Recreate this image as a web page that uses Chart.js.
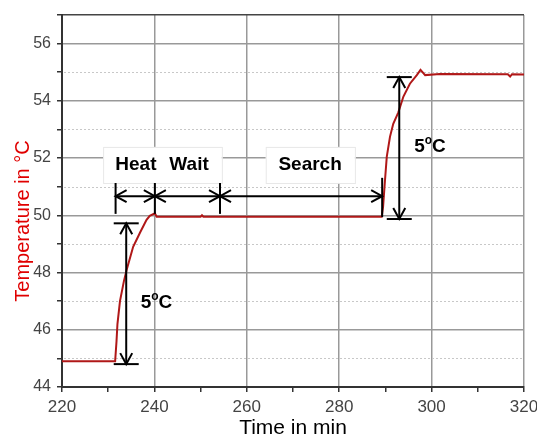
<!DOCTYPE html>
<html>
<head>
<meta charset="utf-8">
<script src="https://cdn.jsdelivr.net/npm/chart.js@4/dist/chart.umd.min.js"></script>
<style>
  html, body { margin: 0; padding: 0; background: #fff; }
  #wrap { width: 537px; height: 437px; }
</style>
</head>
<body>
<div id="wrap"><canvas id="tempChart" width="537" height="437"></canvas></div>
<script>
// measured temperature trace (min, degC)
const times = [220, 231.5, 231.8, 232.0, 232.55, 233.4, 234.0, 235.4, 236.9, 238.3, 239.0, 240.1, 240.5, 250.0, 250.3, 250.6,
  289.2, 289.5, 289.9, 290.3, 291.0, 291.7, 292.8, 293.9, 295.3, 296.8, 297.6, 298.6, 301.8, 316.5, 317.0, 317.4, 320];
const temps = [44.9, 44.9, 45.6, 46.2, 47.0, 47.7, 48.1, 48.9, 49.4, 49.84, 49.98, 50.07, 49.95, 49.95, 50.0, 49.95,
  49.95, 50.3, 51.2, 52.05, 52.75, 53.2, 53.6, 54.15, 54.6, 54.9, 55.08, 54.9, 54.94, 54.93, 54.85, 54.93, 54.92];

// dotted minor grid values
const minorY = [45, 47, 49, 51, 53, 55];

// annotations, in data units
const spanLevel = 50.67;
const spans = [[231.6, 240.1], [240.1, 254.2], [254.2, 289.3]];
const bars = [[231.6, 50.05, 51.13], [240.1, 50.05, 51.13], [254.2, 50.05, 51.13], [289.3, 49.94, 51.31]];
const rises = [[233.9, 44.8, 49.72], [293.0, 49.87, 54.83]];
const phaseLabels = [['Heat', 236.0, 51.76], ['Wait', 247.5, 51.76], ['Search', 273.7, 51.76]];
const labelBoxes = [[228.9, 254.6, 51.13, 52.39], [264.1, 283.4, 51.13, 52.39]];
const riseLabels = [[240.45, 46.94], [299.65, 52.39]];
const yTitle = 'Temperature in °C';

Chart.defaults.font.family = "'Liberation Sans', Arial, sans-serif";

function line(ctx, x1, y1, x2, y2) {
  ctx.beginPath();
  ctx.moveTo(x1, y1);
  ctx.lineTo(x2, y2);
  ctx.stroke();
}

function head(ctx, tx, ty, dx, dy) {
  const L = 11, W = 6;
  const px = -dy, py = dx;
  ctx.beginPath();
  ctx.moveTo(tx - dx * L + px * W, ty - dy * L + py * W);
  ctx.lineTo(tx, ty);
  ctx.lineTo(tx - dx * L - px * W, ty - dy * L - py * W);
  ctx.stroke();
}

const annoPlugin = {
  id: 'anno',
  beforeDatasetsDraw(chart) {
    const { ctx, chartArea, scales: { x, y } } = chart;
    ctx.save();
    ctx.strokeStyle = '#c8c8c8';
    ctx.lineWidth = 1;
    ctx.setLineDash([2, 2]);
    minorY.forEach(v => {
      const py = Math.round(y.getPixelForValue(v)) + 0.5;
      line(ctx, chartArea.left + 2, py, chartArea.right - 2, py);
    });
    ctx.setLineDash([]);
    labelBoxes.forEach(b => {
      const x1 = x.getPixelForValue(b[0]), x2 = x.getPixelForValue(b[1]);
      const y1 = y.getPixelForValue(b[3]), y2 = y.getPixelForValue(b[2]);
      ctx.fillStyle = '#fff';
      ctx.fillRect(x1, y1, x2 - x1, y2 - y1);
      ctx.strokeStyle = '#e8e8e8';
      ctx.strokeRect(x1 + 0.5, y1 + 0.5, x2 - x1, y2 - y1);
    });
    ctx.restore();
  },
  afterDatasetsDraw(chart) {
    const { ctx, scales: { x, y } } = chart;
    ctx.save();
    ctx.strokeStyle = '#000';
    ctx.lineWidth = 2;
    const sy = y.getPixelForValue(spanLevel);
    spans.forEach(s => {
      const a = x.getPixelForValue(s[0]), b = x.getPixelForValue(s[1]);
      line(ctx, a, sy, b, sy);
      head(ctx, a, sy, -1, 0);
      head(ctx, b, sy, 1, 0);
    });
    bars.forEach(b => {
      const px = x.getPixelForValue(b[0]);
      line(ctx, px, y.getPixelForValue(b[1]), px, y.getPixelForValue(b[2]));
    });
    rises.forEach(r => {
      const px = x.getPixelForValue(r[0]);
      const lo = y.getPixelForValue(r[1]), hi = y.getPixelForValue(r[2]);
      line(ctx, px, lo, px, hi);
      head(ctx, px, hi, 0, -1);
      head(ctx, px, lo, 0, 1);
      line(ctx, px - 12.5, hi, px + 12.5, hi);
      line(ctx, px - 12.5, lo, px + 12.5, lo);
    });
    ctx.fillStyle = '#000';
    ctx.textBaseline = 'middle';
    ctx.textAlign = 'center';
    ctx.font = "bold 19px 'Liberation Sans', Arial, sans-serif";
    phaseLabels.forEach(l => {
      ctx.fillText(l[0], x.getPixelForValue(l[1]), y.getPixelForValue(l[2]));
    });
    ctx.textAlign = 'left';
    riseLabels.forEach(l => {
      const big = "bold 19px 'Liberation Sans', Arial, sans-serif";
      const small = "bold 12px 'Liberation Sans', Arial, sans-serif";
      ctx.font = big;
      const w5 = ctx.measureText('5').width, wC = ctx.measureText('C').width;
      ctx.font = small;
      const wo = ctx.measureText('o').width;
      let cx = x.getPixelForValue(l[0]) - (w5 + wo + wC) / 2;
      const cy = y.getPixelForValue(l[1]);
      ctx.font = big;
      ctx.fillText('5', cx, cy);
      cx += w5;
      ctx.font = small;
      ctx.fillText('o', cx, cy - 6);
      cx += wo;
      ctx.font = big;
      ctx.fillText('C', cx, cy);
    });
    ctx.restore();
  },
  afterDraw(chart) {
    // y title sits a little below the axis middle in the original
    const { ctx } = chart;
    ctx.save();
    ctx.translate(23, 221);
    ctx.rotate(-Math.PI / 2);
    ctx.fillStyle = '#e00000';
    ctx.font = "20px 'Liberation Sans', Arial, sans-serif";
    ctx.textAlign = 'center';
    ctx.textBaseline = 'middle';
    ctx.fillText(yTitle, 0, 0);
    ctx.restore();
  }
};

const points = times.map((t, i) => ({ x: t, y: temps[i] }));

new Chart(document.getElementById('tempChart').getContext('2d'), {
  type: 'line',
  data: {
    datasets: [{
      data: points,
      borderColor: '#b01818',
      borderWidth: 2,
      pointRadius: 0,
      tension: 0,
      fill: false
    }]
  },
  options: {
    responsive: false,
    animation: false,
    layout: { padding: { top: 15, right: 13, left: 0, bottom: 0 } },
    plugins: { legend: { display: false }, tooltip: { enabled: false } },
    scales: {
      x: {
        type: 'linear',
        min: 220,
        max: 320,
        ticks: {
          stepSize: 10,
          autoSkip: false,
          maxRotation: 0,
          color: '#444',
          font: { size: 17 },
          padding: 5,
          callback: v => (v % 20 === 0 ? v : '')
        },
        grid: {
          color: c => (c.tick && c.tick.value % 20 === 0 ? '#999' : 'rgba(0,0,0,0)'),
          lineWidth: 1.5,
          tickColor: '#333',
          tickLength: 5,
          tickWidth: 1.5
        },
        border: { color: '#333', width: 2 },
        title: {
          display: true,
          text: 'Time in min',
          color: '#000',
          font: { size: 21, lineHeight: 1 },
          padding: { top: 0, bottom: -2 }
        },
        afterFit: s => { s.height = 50; s.paddingLeft = 0; s.paddingRight = 0; }
      },
      y: {
        min: 44,
        max: 57,
        ticks: {
          stepSize: 1,
          autoSkip: false,
          color: '#444',
          font: { size: 16 },
          padding: 6,
          callback: v => (v % 2 === 0 ? v : '')
        },
        grid: {
          color: c => {
            if (!c.tick) return 'rgba(0,0,0,0)';
            if (c.tick.value === 57) return '#444';
            return c.tick.value % 2 === 0 ? '#999' : 'rgba(0,0,0,0)';
          },
          lineWidth: 1.5,
          tickColor: '#333',
          tickLength: 5,
          tickWidth: 1.5
        },
        border: { color: '#333', width: 2 },
        title: { display: false },
        afterFit: s => { s.width = 62; s.paddingTop = 0; s.paddingBottom = 0; }
      }
    }
  },
  plugins: [annoPlugin]
});
</script>
</body>
</html>
